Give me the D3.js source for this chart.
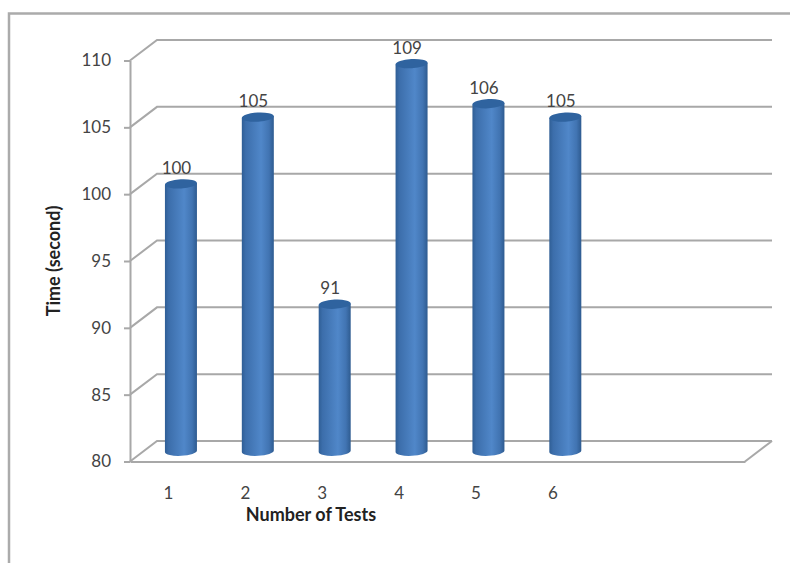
<!DOCTYPE html>
<html>
<head>
<meta charset="utf-8">
<script src="https://cdn.jsdelivr.net/npm/d3@7/dist/d3.min.js"></script>
<style>
  html, body { margin: 0; padding: 0; background: #fff; }
  svg { display: block; }
  text { font-family: Lato, "Open Sans", sans-serif; }
</style>
</head>
<body>
<svg id="chart" width="790" height="563"></svg>
<script>
// Test durations per run; the category axis reserves two empty slots on the right.
const categories = ["1", "2", "3", "4", "5", "6", "", " "];
const times = [100, 105, 91, 109, 106, 105];
const yTicks = [80, 85, 90, 95, 100, 105, 110];
const xTitle = "Number of Tests";
const yTitle = "Time (second)";

const W = 790, H = 563;
const grey = "#a8a8a8";
const depthX = 27, depthY = -20.5;      // oblique offset of the back wall
const plotLeft = 130, plotRight = 745, plotBottom = 461.5, plotTop = 60.5;
const halfWidth = 16, capRy = 4.6, tilt = -3;

const svg = d3.select("#chart");
const x = d3.scaleBand().domain(categories).range([plotLeft, plotRight]);
const y = d3.scaleLinear().domain([80, 110]).range([plotBottom, plotTop]);

// Horizontal shading across the cylinder body
const grad = svg.append("defs").append("linearGradient")
  .attr("id", "cyl").attr("x1", 0).attr("x2", 1).attr("y1", 0).attr("y2", 0);
[[0, "#2f5e95"], [0.12, "#3c6eab"], [0.6, "#5087c9"], [0.85, "#4174b2"], [1, "#2e5b90"]]
  .forEach(([o, c]) => grad.append("stop").attr("offset", o).attr("stop-color", c));

// Outer frame: top and left edges only
svg.append("path")
  .attr("d", `M${W},13.5 H9 V${H}`)
  .attr("fill", "none").attr("stroke", "#ababab").attr("stroke-width", 2.5);

// Back wall gridlines with their slanted connectors to the front axis
const grid = svg.append("g").attr("fill", "none").attr("stroke", grey).attr("stroke-width", 2);
yTicks.forEach(t => {
  const p = d3.path();
  p.moveTo(plotLeft, y(t));
  p.lineTo(plotLeft + depthX, y(t) + depthY);
  p.lineTo(plotRight + depthX, y(t) + depthY);
  grid.append("path").attr("d", p.toString());
});

// Floor edge
const floorEdge = d3.path();
floorEdge.moveTo(plotRight + depthX, plotBottom + depthY);
floorEdge.lineTo(plotRight, plotBottom);
grid.append("path").attr("d", floorEdge.toString());

// Front axes
const yAxis = d3.axisLeft(y).tickValues(yTicks).tickSize(6).tickPadding(13).tickSizeOuter(0);
const gy = svg.append("g").attr("transform", `translate(${plotLeft},0)`).call(yAxis);
const xAxis = d3.axisBottom(x).tickSize(0).tickPadding(25);
const gx = svg.append("g").attr("transform", `translate(0,${plotBottom})`).call(xAxis);
[gy, gx].forEach(g => {
  g.selectAll("path, line").attr("stroke", grey).attr("stroke-width", 2);
  g.selectAll("text").attr("font-family", "Lato").attr("font-size", 17).attr("fill", "#444");
});

// Cylinders
const bars = svg.append("g").selectAll("g").data(times).join("g");
const cx = (d, i) => x(categories[i]) + x.bandwidth() / 2 + depthX / 2 - 1;
const cyOf = v => y(v) + depthY / 2;
const rot = Math.sin(tilt * Math.PI / 180) * halfWidth;

bars.append("path")
  .attr("fill", "url(#cyl)")
  .attr("d", (d, i) => {
    const c = cx(d, i), t = cyOf(d), b = cyOf(80);
    return `M${c - halfWidth},${t - rot}` +
      `L${c - halfWidth},${b - rot}` +
      `A${halfWidth},${capRy} ${tilt} 0 0 ${c + halfWidth},${b + rot}` +
      `L${c + halfWidth},${t + rot}Z`;
  });

bars.append("ellipse")
  .attr("rx", halfWidth).attr("ry", capRy)
  .attr("transform", (d, i) => `translate(${cx(d, i)},${cyOf(d)}) rotate(${tilt})`)
  .attr("fill", "#2f639f");

// Value labels above each cylinder
bars.append("text")
  .attr("x", (d, i) => cx(d, i) - 4.5)
  .attr("y", d => cyOf(d) - 10)
  .attr("text-anchor", "middle")
  .attr("font-size", 17)
  .attr("fill", "#444")
  .text(d => d);

// Axis titles
svg.append("text")
  .attr("x", 311).attr("y", 521)
  .attr("text-anchor", "middle")
  .attr("font-size", 18).attr("font-weight", 700).attr("fill", "#222")
  .text(xTitle);
svg.append("text")
  .attr("transform", "translate(60,261) rotate(-90)")
  .attr("text-anchor", "middle")
  .attr("font-size", 18).attr("font-weight", 700).attr("fill", "#222")
  .text(yTitle);
</script>
</body>
</html>
